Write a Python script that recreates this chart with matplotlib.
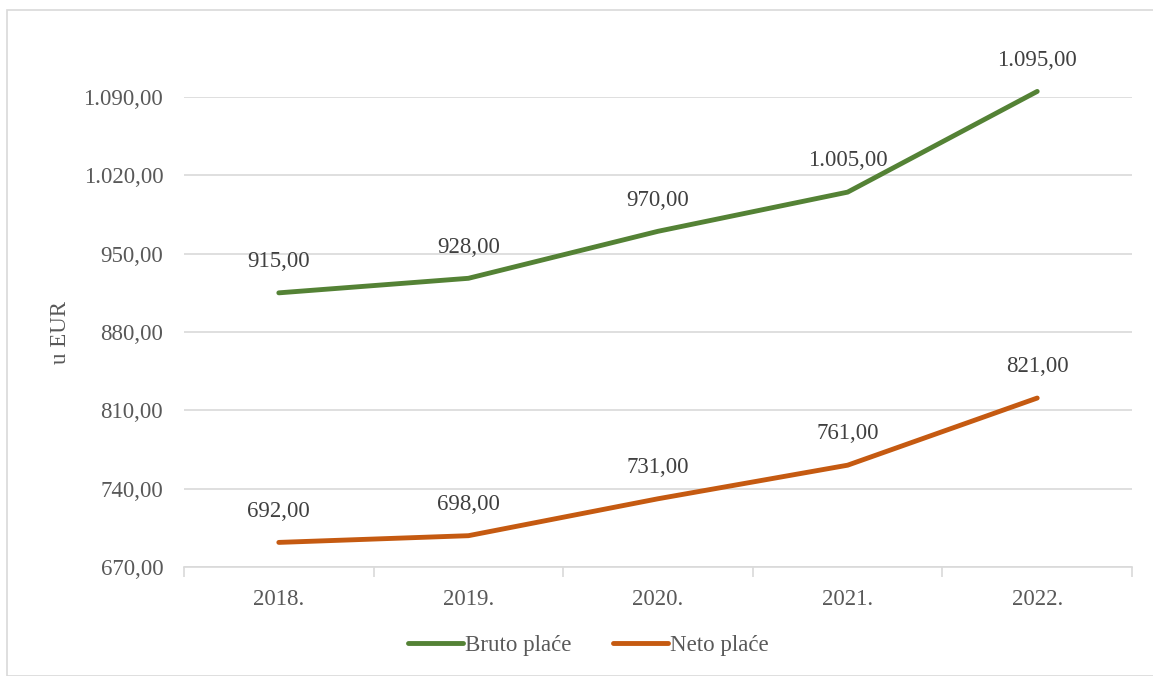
import matplotlib.pyplot as plt
from matplotlib.patches import Rectangle

years = ['2018.', '2019.', '2020.', '2021.', '2022.']
bruto = [915, 928, 970, 1005, 1095]
neto = [692, 698, 731, 761, 821]
yticks = [670, 740, 810, 880, 950, 1020, 1090]

green = '#548235'
orange = '#C55A11'
grey_txt = '#595959'
fs = 16.5

plt.rcParams['font.family'] = ['Liberation Serif', 'DejaVu Serif']


def fmt(v):
    # hrvatski format: tocka za tisucice, zarez za decimale
    s = f'{v:,.2f}'
    return s.replace(',', 'X').replace('.', ',').replace('X', '.')


fig = plt.figure(figsize=(11.53, 6.76), dpi=100)
ax = fig.add_axes([0.1596, 0.1612, 0.8222, 0.6953])

# okvir oko grafikona
fig.patches.append(Rectangle((7 / 1153, 0.0), 1.0, 1 - 10 / 676, transform=fig.transFigure,
                             fill=False, edgecolor='#d9d9d9', linewidth=1.2))

x = list(range(len(years)))
ax.plot(x, bruto, color=green, lw=3.5, solid_capstyle='round', clip_on=False, label='Bruto plaće', zorder=3)
ax.plot(x, neto, color=orange, lw=3.5, solid_capstyle='round', clip_on=False, label='Neto plaće', zorder=3)

for series in (bruto, neto):
    for xi, v in zip(x, series):
        ax.annotate(fmt(v), (xi, v), xytext=(0, 22.5), textcoords='offset points', ha='center', va='center',
                    fontsize=fs, color='#404040', annotation_clip=False)

ax.set_xlim(-0.5, 4.5)
ax.set_ylim(670, 1090)
ax.set_yticks(yticks)
ax.set_yticklabels([fmt(v) for v in yticks], fontsize=fs, color=grey_txt)
ax.set_xticks(x)
ax.set_xticklabels(years, fontsize=fs, color=grey_txt)
ax.set_xticks([i - 0.5 for i in range(len(years) + 1)], minor=True)
ax.tick_params(axis='x', which='major', length=0, pad=16)
ax.tick_params(axis='x', which='minor', length=7, color='#d9d9d9', width=1.2)
ax.tick_params(axis='y', length=0, pad=15)

ax.grid(axis='y', color='#d9d9d9', lw=1.2)
ax.set_axisbelow(True)
for s in ['top', 'right', 'left']:
    ax.spines[s].set_visible(False)
ax.spines['bottom'].set_color('#d9d9d9')
ax.spines['bottom'].set_linewidth(1.2)

ax.set_ylabel('u EUR', fontsize=fs, color=grey_txt, labelpad=9)

leg = fig.legend(loc='center', bbox_to_anchor=(0.51, 1 - 645 / 676), ncol=2, frameon=False,
                 fontsize=fs, handlelength=2.4, handletextpad=0.1, columnspacing=1.8)
for t in leg.get_texts():
    t.set_color(grey_txt)

fig.savefig('out.png', dpi=100)
